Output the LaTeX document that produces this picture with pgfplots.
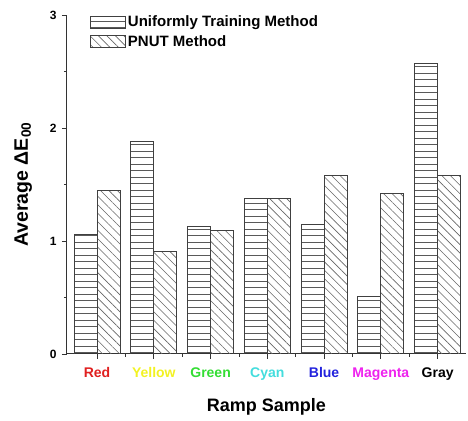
\documentclass[border=0pt]{standalone}
\usepackage{fontspec}
\setmainfont{Liberation Sans}
\usepackage{pgfplots}
\pgfplotsset{compat=1.18}
\usetikzlibrary{patterns,patterns.meta}
\pgfdeclarepatternformonly{hlines}{\pgfqpoint{-1pt}{0pt}}{\pgfqpoint{101pt}{6.5pt}}{\pgfqpoint{100pt}{6.5pt}}{%
  \pgfsetlinewidth{0.7pt}%
  \pgfpathmoveto{\pgfqpoint{-1pt}{3.25pt}}\pgfpathlineto{\pgfqpoint{101pt}{3.25pt}}\pgfusepath{stroke}}
\definecolor{cgreen}{HTML}{33DD33}
\definecolor{ccyan}{HTML}{44DDDD}
\definecolor{cblue}{HTML}{2222DD}
\definecolor{cmag}{HTML}{EE22EE}
\definecolor{cyell}{HTML}{F2F222}
\definecolor{cred}{HTML}{E02020}
\begin{document}
\begin{tikzpicture}
\begin{axis}[name=ax,
  scale only axis, width=399pt, height=339pt,
  ybar=0pt, bar width=0.405,
  xmin=-0.53, xmax=6.5, ymin=0, ymax=3,
  xtick={0,...,6},
  xticklabels={{\textcolor{cred}{Red}},{\textcolor{cyell}{Yellow}},{\textcolor{cgreen}{Green}},{\textcolor{ccyan}{Cyan}},{\textcolor{cblue}{Blue}},{\textcolor{cmag}{Magenta}},{Gray}},
  ytick={0,1,2,3}, minor y tick num=1, minor x tick num=1,
  axis x line*=bottom, axis y line*=left,
  tick align=outside, tick style={black!80, line width=0.8pt},
  major tick length=5pt, minor tick length=3pt,
  axis line style={black!80, line width=1pt},
  /pgf/number format/assume math mode=true,
  yticklabel style={font=\bfseries\fontsize{12}{12}\selectfont, xshift=-2pt},
  xticklabel style={font=\bfseries\fontsize{14}{14}\selectfont, yshift=-5pt},
  xlabel={\bfseries Ramp Sample}, ylabel={\bfseries Average ΔE\textsubscript{00}},
  xlabel style={font=\bfseries\fontsize{18}{18}\selectfont, yshift=-11pt},
  ylabel style={font=\bfseries\fontsize{19.5}{19.5}\selectfont},
  ylabel shift=11pt,
  legend style={at={(0.05,1.01)}, anchor=north west, draw=none, fill=none,
    font=\bfseries\fontsize{15}{15}\selectfont, row sep=3pt,
    /tikz/every even column/.append style={column sep=4pt}},
  legend cell align=left,
  legend image code/.code={\draw[#1] (0pt,-6pt) rectangle (35pt,6pt);},
]
\addplot[draw=black!75, line width=0.8pt, pattern=hlines, pattern color=black!65]
 coordinates {(0,1.06) (1,1.885) (2,1.13) (3,1.38) (4,1.15) (5,0.51) (6,2.57)};
\addplot[draw=black!75, line width=0.8pt, pattern={Lines[angle=-45,distance=6pt,line width=0.6pt]}, pattern color=black!60]
 coordinates {(0,1.445) (1,0.91) (2,1.09) (3,1.38) (4,1.58) (5,1.42) (6,1.58)};
\legend{Uniformly Training Method, PNUT Method}
\end{axis}
\path (ax.south west) ++(-67pt,-67pt);
\path (ax.north east) ++(2pt,15pt);
\end{tikzpicture}
\end{document}
